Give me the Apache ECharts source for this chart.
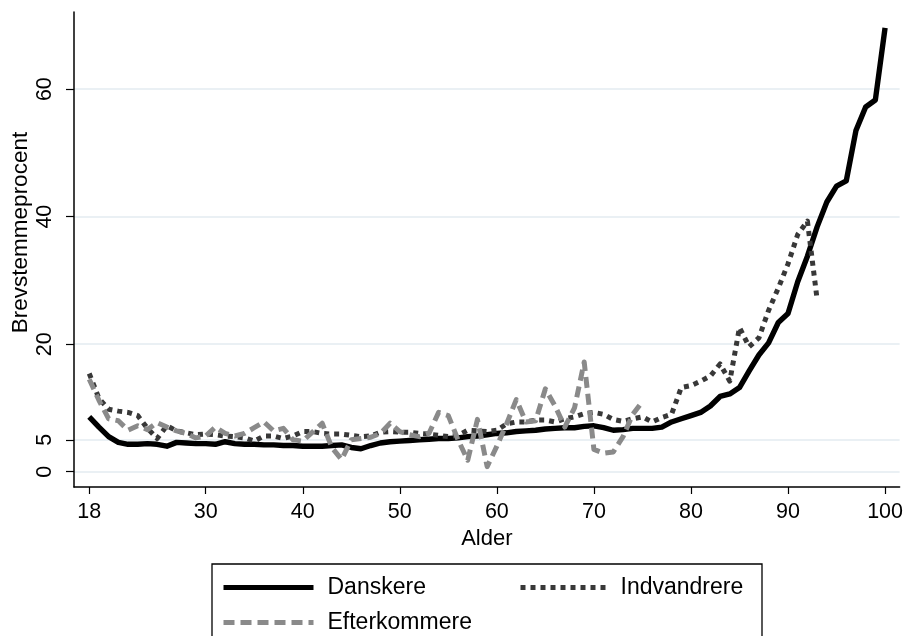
<!DOCTYPE html>
<html><head><meta charset="utf-8">
<script src="https://cdn.jsdelivr.net/npm/echarts@6/dist/echarts.min.js"></script>
<style>html,body{margin:0;padding:0;background:#fff}#c{width:906px;height:636px}</style>
</head><body><div id="c"></div>
<script>
// ---- data ----
const ages = [18,19,20,21,22,23,24,25,26,27,
  28,29,30,31,32,33,34,35,36,37,
  38,39,40,41,42,43,44,45,46,47,
  48,49,50,51,52,53,54,55,56,57,
  58,59,60,61,62,63,64,65,66,67,
  68,69,70,71,72,73,74,75,76,77,
  78,79,80,81,82,83,84,85,86,87,
  88,89,90,91,92,93,94,95,96,97,
  98,99,100];
const danskere = [8.6,7.0,5.5,4.6,4.3,4.3,4.4,4.3,4.0,4.6,
  4.5,4.4,4.4,4.3,4.7,4.4,4.3,4.3,4.2,4.2,
  4.1,4.1,4.0,4.0,4.0,4.1,4.2,3.8,3.6,4.1,
  4.5,4.7,4.8,4.9,5.0,5.1,5.2,5.2,5.3,5.5,
  5.6,5.8,6.0,6.1,6.3,6.4,6.5,6.7,6.8,6.9,
  6.9,7.1,7.2,6.9,6.5,6.6,6.8,6.8,6.8,7.0,
  7.8,8.3,8.8,9.3,10.3,11.8,12.2,13.2,15.8,18.3,
  20.2,23.4,24.8,29.8,33.8,38.4,42.3,44.8,45.6,53.5,
  57.2,58.3,69.6];
const indvandrere = [15.4,11.5,9.8,9.5,9.3,8.8,6.8,5.2,7.2,6.4,
  6.1,5.8,5.9,5.8,5.6,5.5,5.3,4.8,5.6,5.6,
  5.2,5.6,6.3,6.3,6.0,5.9,5.9,5.7,5.5,5.6,
  6.2,6.3,6.2,6.2,6.0,5.9,5.7,5.5,5.7,6.5,
  6.4,6.3,6.5,7.5,7.8,7.8,8.1,8.1,7.8,8.3,
  8.6,9.1,9.3,9.0,8.2,7.9,8.3,8.6,7.8,8.5,
  9.0,13.2,13.5,14.2,15.0,16.9,14.2,22.6,19.6,21.0,
  25.3,28.8,32.6,37.2,39.3,27.0];
const efterkommere = [14.5,11.2,8.3,8.0,6.5,7.2,6.6,7.7,7.0,6.4,
  6.0,5.3,5.6,7.0,6.0,5.6,6.0,6.9,7.8,6.4,
  6.8,5.0,4.8,6.2,7.6,3.8,1.9,5.0,5.2,5.4,
  6.0,7.6,6.3,5.8,5.5,6.0,9.3,8.8,5.0,1.8,
  8.2,0.8,4.0,7.5,11.3,7.8,8.0,13.0,10.3,7.0,
  10.0,17.2,3.5,2.9,3.1,5.5,9.0,11.0];
const xTicks = [18,30,40,50,60,70,80,90,100];
const yTicks = [0,5,20,40,60];
const seriesNames = ['Danskere','Indvandrere','Efterkommere'];
const xTitle = 'Alder';
const yTitle = 'Brevstemmeprocent';

// ---- styles ----
const FONT = '"Liberation Sans", Arial, sans-serif';
const styles = {
  Danskere:     {color:'#000000', width:5.4, type:'solid'},
  Indvandrere:  {color:'#383838', width:5, type:[5,5]},
  Efterkommere: {color:'#8a8a8a', width:5, type:[11,6]}
};
const values = {Danskere:danskere, Indvandrere:indvandrere, Efterkommere:efterkommere};
function pairs(vals){ return vals.map((v,i)=>[ages[i], v]); }

const chart = echarts.init(document.getElementById('c'), null, {renderer:'canvas'});
const legendText = {fontSize:23, color:'#000', fontFamily:FONT, padding:[0,0,0,9]};
function legendItem(n){
  const s = styles[n];
  return {name:n, lineStyle:{color:s.color,width:5,type:s.type,cap:'butt'},
          itemStyle:{color:'rgba(0,0,0,0)',borderWidth:0,opacity:0}};
}
chart.setOption({
  animation:false,
  backgroundColor:'#ffffff',
  textStyle:{fontFamily:FONT},
  grid:{left:74,right:5,top:12,bottom:149,containLabel:false},
  xAxis:{type:'value',min:16.43,max:101.5,
    name:xTitle,nameLocation:'middle',nameGap:37,
    nameTextStyle:{fontSize:22,color:'#000',fontFamily:FONT},
    axisLine:{show:true,onZero:false,lineStyle:{color:'#000',width:1.5}},
    axisTick:{show:true,length:7,customValues:xTicks,lineStyle:{color:'#000',width:1.2}},
    axisLabel:{customValues:xTicks,fontSize:21.5,color:'#000',margin:14,fontFamily:FONT},
    splitLine:{show:false}},
  yAxis:{type:'value',min:-2.4,max:72.1,
    axisLine:{show:true,onZero:false,lineStyle:{color:'#000',width:1.5}},
    axisTick:{show:true,length:8,customValues:yTicks,lineStyle:{color:'#000',width:1.2}},
    axisLabel:{customValues:yTicks,rotate:90,fontSize:21.5,color:'#000',margin:18,fontFamily:FONT},
    splitLine:{show:true,lineStyle:{color:'#eaf0f4',width:2}}},
  legend:[
    {show:true,data:[legendItem('Danskere'),legendItem('Efterkommere')],orient:'vertical',left:221,top:576,
     itemWidth:90,itemHeight:14,itemGap:12,padding:0,textStyle:legendText},
    {show:true,data:[legendItem('Indvandrere')],orient:'vertical',left:518,top:576,
     itemWidth:86,itemHeight:14,itemGap:12,padding:0,textStyle:legendText}
  ],
  graphic:[
    {type:'rect',shape:{x:212,y:564,width:550,height:100},style:{fill:'rgba(0,0,0,0)',stroke:'#000',lineWidth:1.3},z:-10,silent:true},
    {type:'text',x:21,y:232.5,rotation:Math.PI/2,
     style:{text:yTitle,fontSize:22.5,fill:'#000',fontFamily:FONT,align:'center',verticalAlign:'middle'}}
  ],
  series: seriesNames.map(n=>({
    type:'line', name:n, data:pairs(values[n]), showSymbol:false, symbol:'none',
    lineStyle:{color:styles[n].color,width:styles[n].width,type:styles[n].type,cap:'butt',join:'round'},
    itemStyle:{color:styles[n].color}, emphasis:{disabled:true}
  }))
});
</script></body></html>
